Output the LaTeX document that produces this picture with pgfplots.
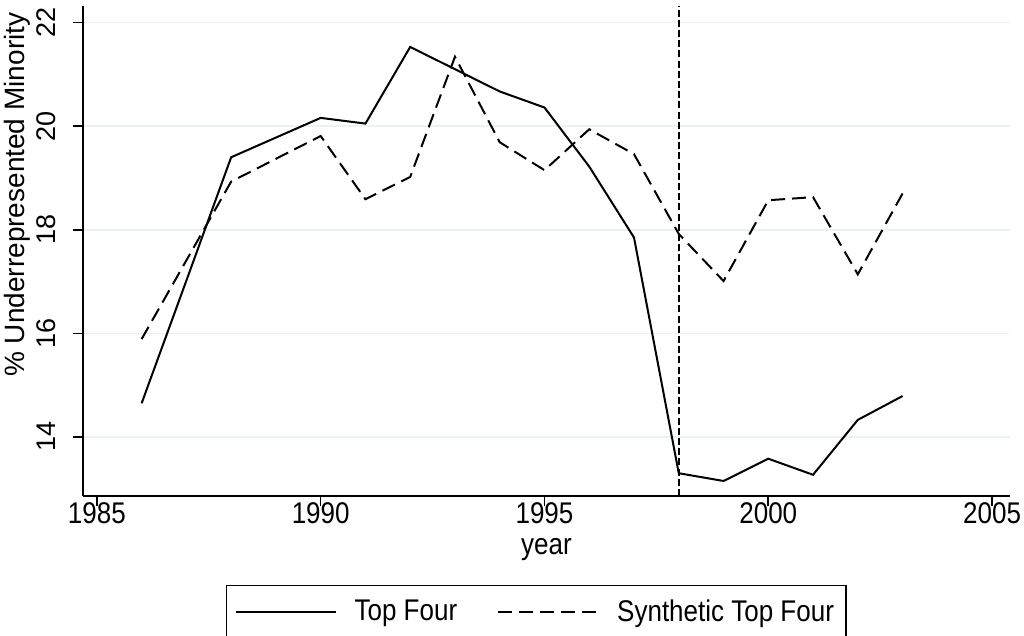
\documentclass[border=0pt]{standalone}
\usepackage{pgfplots}
\pgfplotsset{compat=1.18}
\usepackage{fontspec}
\setmainfont{Liberation Sans}
\definecolor{gridc}{HTML}{EAF2F3}
\newcommand{\st}[1]{\scalebox{1}[1.15]{#1}}
\begin{document}
\begin{tikzpicture}
\begin{axis}[
  name=ax,
  scale only axis,
  width=463.5pt, height=245pt,
  xmin=1984.69, xmax=2005.4,
  ymin=12.86, ymax=22.32,
  axis x line*=bottom, axis y line*=left,
  axis line style={line width=0.8pt, black, -},
  xtick={1985,1990,1995,2000,2005},
  ytick={14,16,18,20,22},
  tick align=outside,
  major tick length=5pt,
  tick style={line width=0.8pt, black},
  ymajorgrids,
  grid style={line width=0.8pt, gridc},
  /pgf/number format/assume math mode=true,
  /pgf/number format/1000 sep={},
  xticklabel={\st{\pgfmathprintnumber{\tick}}},
  ticklabel style={font=\fontsize{13}{15}\selectfont},
  yticklabel style={rotate=90, anchor=south, inner xsep=0pt, inner ysep=8.5pt, font=\fontsize{13.5}{16}\selectfont},
  xticklabel style={inner sep=0pt, yshift=2pt},
  xlabel={\st{year}},
  ylabel={\% Underrepresented Minority},
  xlabel style={at={(axis description cs:0.5,-0.11)}, anchor=center, font=\fontsize{13}{15}\selectfont},
  ylabel style={at={(axis description cs:-0.0705,0.615)}, anchor=center, font=\fontsize{14}{16}\selectfont},
  legend columns=2,
  legend style={at={(0.489,-0.1816)}, anchor=north, draw=black, line width=0.6pt,
    font=\fontsize{13}{15}\selectfont, inner xsep=4pt, inner ysep=5pt,
    /tikz/every odd column/.append style={column sep=7pt},
    /tikz/every even column/.append style={column sep=18pt}},
  legend image code/.code={\draw[#1] (0pt,0pt) -- (50pt,0pt);},
  clip=false,
]
\addplot[black, line width=1pt, solid] coordinates {
(1986,14.65) (1987,17.02) (1988,19.40) (1989,19.78) (1990,20.16) (1991,20.05) (1992,21.53)
(1993,21.10) (1994,20.67) (1995,20.36) (1996,19.22) (1997,17.85) (1998,13.30)
(1999,13.15) (2000,13.58) (2001,13.27) (2002,14.33) (2003,14.79)};
\addlegendentry{\st{Top Four}}
\addplot[black, line width=1pt, dash pattern=on 7pt off 3.5pt] coordinates {
(1986,15.89) (1987,17.41) (1988,18.93) (1989,19.37) (1990,19.81) (1991,18.59) (1992,19.02)
(1993,21.34) (1994,19.69) (1995,19.15) (1996,19.94) (1997,19.46) (1998,17.92)
(1999,17.01) (2000,18.57) (2001,18.63) (2002,17.14) (2003,18.70)};
\addlegendentry{\st{Synthetic Top Four}}
\draw[black, line width=1pt, dash pattern=on 3.5pt off 1.6pt] (axis cs:1998,12.86) -- (axis cs:1998,22.32);
\end{axis}
\pgfresetboundingbox
\path[use as bounding box] ([shift={(-41.5pt,-69.5pt)}]ax.south west) rectangle ([shift={(7pt,3pt)}]ax.north east);
\end{tikzpicture}
\end{document}
